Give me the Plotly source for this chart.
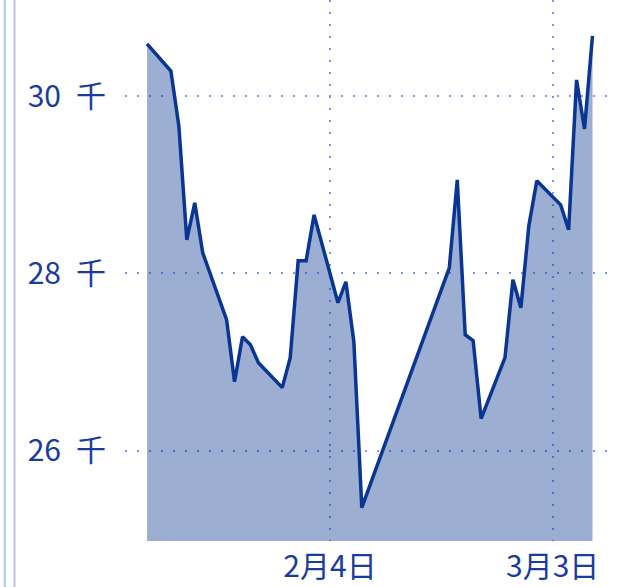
import plotly.graph_objects as go

dates = [
    "2024-01-12", "2024-01-15", "2024-01-16", "2024-01-17", "2024-01-18", "2024-01-19",
    "2024-01-22", "2024-01-23", "2024-01-24", "2024-01-25", "2024-01-26",
    "2024-01-29", "2024-01-30", "2024-01-31", "2024-02-01", "2024-02-02",
    "2024-02-05", "2024-02-06", "2024-02-07", "2024-02-08",
    "2024-02-19", "2024-02-20", "2024-02-21", "2024-02-22", "2024-02-23",
    "2024-02-26", "2024-02-27", "2024-02-28", "2024-02-29", "2024-03-01",
    "2024-03-04", "2024-03-05", "2024-03-06", "2024-03-07", "2024-03-08",
]
values = [
    30590, 30285, 29665, 28379, 28797, 28233,
    27477, 26778, 27286, 27195, 26992,
    26711, 27049, 28143, 28143, 28661,
    27669, 27906, 27229, 25357,
    28064, 29056, 27308, 27241, 26361,
    27049, 27928, 27613, 28537, 29045,
    28774, 28492, 30184, 29631, 30680,
]
x_tick_vals = ["2024-02-04", "2024-03-03"]
x_tick_text = ["2月4日", "3月3日"]
y_tick_vals = [26000, 28000, 30000]
y_tick_text = ["26\u2002千", "28\u2002千", "30\u2002千"]

LINE = "#0a3592"
TEXT = "#1a3c9c"
GRID = "rgb(120,152,240)"
FONT = "Noto Sans CJK SC"

fig = go.Figure()
fig.add_trace(go.Scatter(
    x=dates, y=values, mode="lines",
    line=dict(color=LINE, width=3.5),
    fill="tozeroy", fillcolor="rgba(10,53,146,0.4)",
    hoverinfo="skip",
))

fig.update_layout(
    width=638, height=587,
    margin=dict(l=125, r=30, t=0, b=46),
    paper_bgcolor="white", plot_bgcolor="white",
    showlegend=False,
    font=dict(family=FONT, size=30, color=TEXT),
    xaxis=dict(
        type="date",
        range=["2024-01-09 05:30", "2024-03-09 22:50"],
        tickmode="array", tickvals=x_tick_vals, ticktext=x_tick_text,
        showgrid=True, gridcolor=GRID, griddash="2px,10px", gridwidth=2,
        zeroline=False, showline=False, ticks="",
        ticklabelstandoff=5,
        tickfont=dict(family=FONT, size=30, color=TEXT),
    ),
    yaxis=dict(
        range=[24980, 31086],
        tickmode="array", tickvals=y_tick_vals, ticktext=y_tick_text,
        showgrid=True, gridcolor=GRID, griddash="2px,10px", gridwidth=2,
        zeroline=False, showline=False, ticks="",
        ticklabelstandoff=18,
        tickfont=dict(family=FONT, size=30, color=TEXT),
    ),
    shapes=[
        dict(type="line", xref="paper", yref="paper",
             x0=(4.8 - 125) / 483, x1=(4.8 - 125) / 483, y0=-0.2, y1=1.1,
             line=dict(color="#b3c6f1", width=2)),
        dict(type="line", xref="paper", yref="paper",
             x0=(14.5 - 125) / 483, x1=(14.5 - 125) / 483, y0=-0.2, y1=1.1,
             line=dict(color="#b3c6f1", width=2)),
    ],
)

fig.write_html(
    "out.html",
    config={"displayModeBar": False},
    post_script="document.body.style.margin='0';document.body.style.overflow='hidden';",
)
